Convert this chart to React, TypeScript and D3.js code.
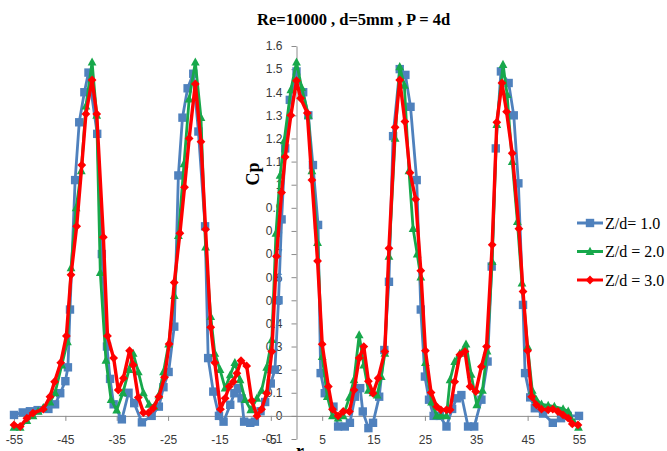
import React, { useEffect, useRef } from 'react'
import * as d3 from 'd3'

// series: [r, Cp]
const zd10: [number, number][] = [
  [-55, 0.004], [-53.3, 0.015], [-51.9, 0.02], [-50.4, 0.025], [-48.3, 0.03], [-47, 0.05], [-46, 0.098],
  [-45, 0.15], [-44.5, 0.21], [-44.1, 0.46], [-43.1, 1.02], [-42.3, 1.27], [-41.3, 1.4], [-40.5, 1.485],
  [-38.8, 1.22], [-37.9, 0.7], [-36.9, 0.3], [-36.3, 0.16], [-35.6, 0.05], [-34, -0.015], [-32.7, 0.1],
  [-31.6, 0.055], [-30.1, -0.028], [-28.2, 0], [-26.8, 0.04], [-25.9, 0.124], [-24.9, 0.19], [-23.8, 0.386],
  [-23, 1.04], [-22.2, 1.29], [-21.2, 1.417], [-20.1, 1.48], [-19.1, 1.23], [-17.8, 0.82], [-17.2, 0.25],
  [-16.2, 0.105], [-15.1, 0], [-14.2, -0.025], [-12.9, 0.048], [-12.1, 0.098], [-11.4, 0.12], [-10.7, 0.076],
  [-10.2, -0.025], [-9, -0.03], [-8.1, -0.025], [-7, 0.02], [-6.1, 0.06], [-5, 0.14], [-4.2, 0.2],
  [-3.5, 0.5], [-2.9, 0.85], [-2.2, 1.157], [-1.3, 1.367], [0, 1.49], [1.3, 1.4], [2.3, 1.3], [3.2, 1.085],
  [4.2, 0.826], [4.7, 0.185], [5.5, 0.098], [7.2, 0.04], [8.1, -0.046], [9.4, -0.046], [10.4, -0.03],
  [11.4, 0.083], [12.4, 0.12], [12.9, 0.019], [14, -0.053], [14.9, -0.03], [16.1, 0.083], [17.1, 0.285],
  [18, 0.58], [18.8, 1.21], [20.1, 1.5], [21.2, 1.475], [22.2, 1.337], [23.4, 1.02], [24.2, 0.46],
  [25, 0.17], [25.8, 0.07], [26.7, 0], [27.9, 0], [29.2, -0.046], [30.3, 0.03], [31.2, 0.076], [32.1, 0.09],
  [33.4, -0.046], [34.6, -0.046], [36, 0.07], [37.2, 0.235], [38, 0.646], [38.8, 1.157], [39.8, 1.49],
  [41.3, 1.44], [42.3, 1.3], [43.2, 1.006], [44.1, 0.48], [44.5, 0.185], [45.5, 0.08], [46.4, 0.033],
  [48, 0.01], [49.9, -0.03], [51.5, -0.01], [52.8, 0], [55, 0],
]

const zd20: [number, number][] = [
  [-55, -0.05], [-53.8, -0.05], [-52.5, -0.02], [-51.3, 0], [-50.3, 0.02], [-49.3, 0.035], [-48, 0.06],
  [-47, 0.1], [-45.7, 0.22], [-44.6, 0.32], [-43.9, 0.64], [-42.9, 0.9], [-41.9, 1.06], [-41, 1.34],
  [-39.8, 1.53], [-38.9, 1.3], [-38.2, 0.62], [-37.1, 0.24], [-36.1, 0.07], [-35, 0.025], [-33.8, 0.1],
  [-32.6, 0.2], [-31.8, 0.27], [-30.8, 0.19], [-29.8, 0.1], [-28.7, 0.05], [-27.7, 0.04], [-26.8, 0.09],
  [-25.9, 0.19], [-24.9, 0.31], [-23.8, 0.52], [-23, 0.78], [-21.9, 1.09], [-20.9, 1.37], [-19.7, 1.53],
  [-18.6, 1.29], [-17.7, 0.73], [-16.7, 0.43], [-15.9, 0.27], [-14.9, 0.2], [-13.9, 0.12], [-12.9, 0.177],
  [-12, 0.23], [-11, 0.156], [-10, 0.07], [-8.9, 0.026], [-7.7, 0.076], [-6.8, 0.11], [-5.8, 0.21],
  [-4.8, 0.33], [-4, 0.79], [-3.2, 1.04], [-2.4, 1.19], [-1.1, 1.41], [0, 1.53], [1, 1.42], [2.3, 1.3],
  [3, 1.06], [4.1, 0.75], [5, 0.256], [6, 0.083], [7, 0], [8.1, -0.01], [9.1, 0], [10.3, 0.08],
  [11.2, 0.156], [12.2, 0.35], [13.1, 0.22], [14, 0.11], [14.9, 0.1], [15.7, 0.09], [16.5, 0.17],
  [17.2, 0.27], [18, 0.69], [19.2, 1.2], [20.1, 1.51], [21, 1.43], [21.9, 1.06], [22.7, 0.81], [23.5, 0.7],
  [24.2, 0.6], [25.1, 0.23], [26.3, 0.06], [27.3, 0], [28.1, 0], [29.2, 0], [29.9, 0.156], [30.8, 0.235],
  [31.8, 0.27], [33, 0.31], [34, 0.18], [35.1, 0.048], [36.2, 0.11], [37.1, 0.28], [38.1, 0.667],
  [39, 1.26], [40.2, 1.52], [41, 1.39], [42, 1.1], [43, 0.84], [43.9, 0.574], [45, 0.3], [45.9, 0.11],
  [46.7, 0.07], [47.7, 0.05], [49, 0.045], [50.2, 0.04], [51.9, 0.03], [52.9, 0.02], [54.1, -0.03],
  [54.9, -0.05],
]

const zd30: [number, number][] = [
  [-55, -0.039], [-53.8, -0.046], [-52.5, -0.01], [-51.3, 0.012], [-49.3, 0.029], [-48, 0.083],
  [-47.1, 0.148], [-45.9, 0.23], [-44.8, 0.346], [-43.9, 0.61], [-42.8, 0.82], [-41.8, 1.085],
  [-41, 1.306], [-39.8, 1.453], [-38.9, 1.306], [-37.6, 0.773], [-36.8, 0.346], [-35.6, 0.25],
  [-34.7, 0.112], [-33.7, 0.163], [-32.5, 0.282], [-31.8, 0.22], [-30.8, 0.08], [-29.8, 0.014],
  [-28.8, 0.014], [-27.9, 0.033], [-26.8, 0.083], [-25.7, 0.167], [-24.8, 0.311], [-23.8, 0.577],
  [-22.7, 0.79], [-21.8, 0.989], [-20.9, 1.2], [-19.7, 1.436], [-18.6, 1.186], [-17.7, 0.807],
  [-16.7, 0.383], [-15.9, 0.23], [-14.8, 0.029], [-13.9, 0.076], [-13.1, 0.127], [-12.3, 0.148],
  [-11.6, 0.184], [-10.8, 0.239], [-9.7, 0.216], [-8.7, 0.066], [-7.7, 0], [-6.8, 0.029], [-5.8, 0.098],
  [-4.8, 0.278], [-3.9, 0.69], [-2.9, 0.966], [-2.2, 1.12], [-1.1, 1.3], [0, 1.45], [0.8, 1.374],
  [2.1, 1.31], [3, 1.02], [4.1, 0.67], [5, 0.31], [6.2, 0.127], [7, 0.029], [8.1, 0], [9.1, 0.019],
  [10.3, 0.019], [11.2, 0.112], [12.2, 0.25], [13.1, 0.3], [14, 0.15], [14.9, 0.098], [15.9, 0.163],
  [17.2, 0.278], [18, 0.725], [19.2, 1.248], [20.1, 1.453], [21.1, 1.273], [22.1, 1.052], [23.2, 0.937],
  [24.2, 0.628], [25.1, 0.282], [26.2, 0.101], [27.3, 0.04], [28.1, 0.026], [29.2, 0.026], [29.9, 0.026],
  [30.8, 0.148], [31.8, 0.264], [32.8, 0.278], [33.8, 0.127], [34.9, 0.105], [36, 0.213], [37, 0.3],
  [38.1, 0.74], [39, 1.27], [40, 1.44], [40.9, 1.316], [42, 1.136], [43.3, 0.81], [44.1, 0.538],
  [45, 0.282], [45.8, 0.083], [46.7, 0.048], [47.7, 0.029], [49, 0.026], [49.9, 0.029], [50.9, 0.019],
  [51.9, 0.004], [52.9, -0.01], [53.7, -0.035], [54.8, -0.039],
]

const xTicks = [-55, -45, -35, -25, -15, -5, 5, 15, 25, 35, 45, 55]
const yTicks = [-0.1, 0, 0.1, 0.2, 0.3, 0.4, 0.5, 0.6, 0.7, 0.8, 0.9, 1, 1.1, 1.2, 1.3, 1.4, 1.5, 1.6]
const seriesNames = ['Z/d= 1.0', 'Z/d = 2.0', 'Z/d = 3.0']

const colors = ['#4f81bd', '#17a84b', '#ff0000']
const serif = '"Liberation Serif", "Times New Roman", serif'
const sans = '"Liberation Sans", Arial, sans-serif'

// marker paths centred on 0,0
const square = 'M-4.2,-4.2H4.2V4.2H-4.2Z'
const triangle = 'M0,-4.8L4.4,3.4H-4.4Z'
const diamond = 'M0,-4.4L4.4,0L0,4.4L-4.4,0Z'
const markers = [square, triangle, diamond]

export default function App() {
  const ref = useRef<SVGSVGElement>(null)

  useEffect(() => {
    const svg = d3.select(ref.current)
    svg.selectAll('*').remove()

    const x = d3.scaleLinear().domain([-55, 55]).range([14, 579])
    const y = d3.scaleLinear().domain([-0.1, 1.6]).range([439, 46])

    // y axis at r = 0
    const ya = svg.append('g')
      .attr('transform', 'translate(' + x(0) + ',0)')
      .call(d3.axisLeft(y).tickValues(yTicks).tickSize(5).tickSizeOuter(0).tickPadding(9)
        .tickFormat((d: any) => String(+(+d).toFixed(1))))
    ya.selectAll('path, line').attr('stroke', '#8c8c8c')
    ya.selectAll('text').attr('font-family', sans).attr('font-size', 12).attr('fill', '#3a3a3a')

    // x axis at Cp = 0, labels pushed down to the bottom
    const xa = svg.append('g')
      .attr('transform', 'translate(0,' + y(0) + ')')
      .call(d3.axisBottom(x).tickValues(xTicks).tickSize(5).tickSizeOuter(0).tickPadding(15)
        .tickFormat((d: any) => String(d)))
    xa.selectAll('path, line').attr('stroke', '#8c8c8c')
    xa.selectAll('text').attr('font-family', sans).attr('font-size', 12).attr('fill', '#3a3a3a')

    const line = d3.line<[number, number]>()
      .x(d => x(d[0]))
      .y(d => y(d[1]))

    const all = [zd10, zd20, zd30]
    all.forEach((data, i) => {
      svg.append('path')
        .datum(data)
        .attr('fill', 'none')
        .attr('stroke', colors[i])
        .attr('stroke-width', i === 2 ? 3.4 : 2.8)
        .attr('stroke-linejoin', 'round')
        .attr('d', line)
      svg.append('g').selectAll('path')
        .data(data)
        .enter().append('path')
        .attr('d', markers[i])
        .attr('fill', colors[i])
        .attr('transform', d => 'translate(' + x(d[0]) + ',' + y(d[1]) + ')')
    })

    svg.append('text')
      .attr('x', 257).attr('y', 25)
      .attr('font-family', serif).attr('font-weight', 'bold').attr('font-size', 16.5)
      .text('Re=10000 , d=5mm , P = 4d')

    svg.append('text')
      .attr('transform', 'translate(259,174) rotate(-90)')
      .attr('text-anchor', 'middle')
      .attr('font-family', serif).attr('font-weight', 'bold').attr('font-size', 18)
      .text('Cp')

    svg.append('text')
      .attr('x', 300).attr('y', 457)
      .attr('text-anchor', 'middle')
      .attr('font-family', serif).attr('font-weight', 'bold').attr('font-size', 18)
      .text('r')

    // legend
    const lg = svg.append('g').attr('transform', 'translate(577,223)')
    seriesNames.forEach((name, i) => {
      const row = lg.append('g').attr('transform', 'translate(0,' + i * 28.5 + ')')
      row.append('line').attr('x1', 0).attr('x2', 26).attr('y1', 0).attr('y2', 0)
        .attr('stroke', colors[i]).attr('stroke-width', 3)
      row.append('path').attr('d', markers[i]).attr('fill', colors[i]).attr('transform', 'translate(13,0)')
      row.append('text').attr('x', 28).attr('y', 5.5)
        .attr('font-family', serif).attr('font-size', 16)
        .text(name)
    })
  }, [])

  return (
    <svg ref={ref} width={667} height={451}
      style={{ position: 'absolute', left: 0, top: 0, background: '#fff' }} />
  )
}
